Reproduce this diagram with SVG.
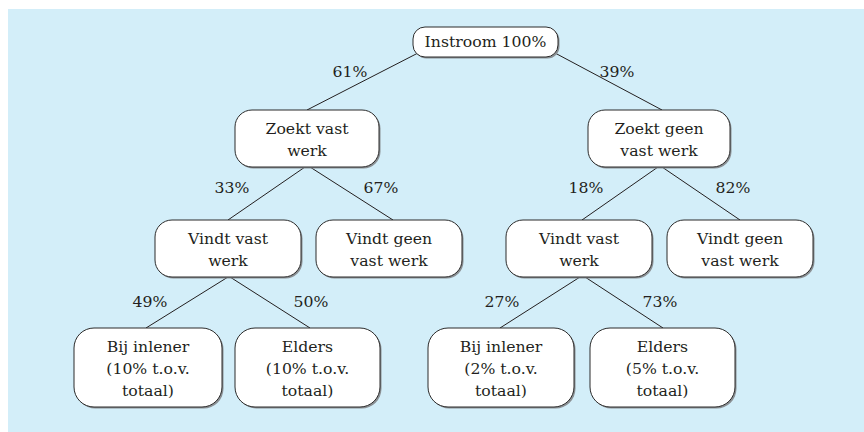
<svg xmlns="http://www.w3.org/2000/svg" width="864" height="432" viewBox="0 0 864 432">
<style>
.bg{fill:#d3eef9}
.box{fill:#ffffff;stroke:#2b2b2b;stroke-width:1}
.sh{fill:#8a8f93}
.t{font-family:"DejaVu Serif","Liberation Serif",serif;font-size:15.7px;fill:#231f20;text-anchor:middle}
.c{stroke:#231f20;stroke-width:1;fill:none}
</style>
<rect class="bg" x="8" y="9" width="856" height="423"/>
<g id="connectors">
<line class="c" x1="418" y1="53" x2="307" y2="110"/>
<line class="c" x1="555" y1="53" x2="662" y2="110"/>
<line class="c" x1="305" y1="167" x2="228" y2="220"/>
<line class="c" x1="310" y1="167" x2="393" y2="220"/>
<line class="c" x1="658" y1="167" x2="582" y2="220"/>
<line class="c" x1="662" y1="167" x2="740" y2="220"/>
<line class="c" x1="228" y1="277" x2="146" y2="328"/>
<line class="c" x1="230" y1="277" x2="310" y2="328"/>
<line class="c" x1="580" y1="277" x2="500" y2="328"/>
<line class="c" x1="585" y1="277" x2="663" y2="328"/>
<text class="t" x="350" y="77">61%</text>
<text class="t" x="617" y="77">39%</text>
<text class="t" x="232" y="193">33%</text>
<text class="t" x="381" y="193">67%</text>
<text class="t" x="586" y="193">18%</text>
<text class="t" x="733" y="193">82%</text>
<text class="t" x="150" y="307">49%</text>
<text class="t" x="311" y="307">50%</text>
<text class="t" x="502" y="307">27%</text>
<text class="t" x="660" y="307">73%</text>
</g>
<g id="n-instroom">
<rect class="sh" x="414.5" y="28.5" width="145" height="30" rx="12"/>
<rect class="box" x="413" y="27" width="145" height="30" rx="12"/>
<text class="t" x="485.5" y="47">Instroom 100%</text>
</g>
<g id="n-zoekt-vast">
<rect class="sh" x="236.5" y="111.5" width="144" height="57" rx="17"/>
<rect class="box" x="235" y="110" width="144" height="57" rx="17"/>
<text class="t" x="307" y="134">Zoekt vast</text>
<text class="t" x="307" y="156">werk</text>
</g>
<g id="n-zoekt-geen">
<rect class="sh" x="589.5" y="111.5" width="142" height="57" rx="17"/>
<rect class="box" x="588" y="110" width="142" height="57" rx="17"/>
<text class="t" x="659" y="134">Zoekt geen</text>
<text class="t" x="659" y="156">vast werk</text>
</g>
<g id="n-vindt-vast-l">
<rect class="sh" x="156.5" y="221.5" width="146" height="57" rx="17"/>
<rect class="box" x="155" y="220" width="146" height="57" rx="17"/>
<text class="t" x="228" y="244">Vindt vast</text>
<text class="t" x="228" y="266">werk</text>
</g>
<g id="n-vindt-geen-l">
<rect class="sh" x="317.5" y="221.5" width="146" height="57" rx="17"/>
<rect class="box" x="316" y="220" width="146" height="57" rx="17"/>
<text class="t" x="389" y="244">Vindt geen</text>
<text class="t" x="389" y="266">vast werk</text>
</g>
<g id="n-vindt-vast-r">
<rect class="sh" x="507.5" y="221.5" width="146" height="57" rx="17"/>
<rect class="box" x="506" y="220" width="146" height="57" rx="17"/>
<text class="t" x="579" y="244">Vindt vast</text>
<text class="t" x="579" y="266">werk</text>
</g>
<g id="n-vindt-geen-r">
<rect class="sh" x="668.5" y="221.5" width="146" height="57" rx="17"/>
<rect class="box" x="667" y="220" width="146" height="57" rx="17"/>
<text class="t" x="740" y="244">Vindt geen</text>
<text class="t" x="740" y="266">vast werk</text>
</g>
<g id="n-inlener-l">
<rect class="sh" x="75.5" y="329.5" width="148" height="79" rx="20"/>
<rect class="box" x="74" y="328" width="148" height="79" rx="20"/>
<text class="t" x="148" y="352">Bij inlener</text>
<text class="t" x="148" y="374">(10% t.o.v.</text>
<text class="t" x="148" y="396">totaal)</text>
</g>
<g id="n-elders-l">
<rect class="sh" x="236.5" y="329.5" width="145" height="79" rx="20"/>
<rect class="box" x="235" y="328" width="145" height="79" rx="20"/>
<text class="t" x="307.5" y="352">Elders</text>
<text class="t" x="307.5" y="374">(10% t.o.v.</text>
<text class="t" x="307.5" y="396">totaal)</text>
</g>
<g id="n-inlener-r">
<rect class="sh" x="429.5" y="329.5" width="146" height="79" rx="20"/>
<rect class="box" x="428" y="328" width="146" height="79" rx="20"/>
<text class="t" x="501" y="352">Bij inlener</text>
<text class="t" x="501" y="374">(2% t.o.v.</text>
<text class="t" x="501" y="396">totaal)</text>
</g>
<g id="n-elders-r">
<rect class="sh" x="591.5" y="329.5" width="145" height="79" rx="20"/>
<rect class="box" x="590" y="328" width="145" height="79" rx="20"/>
<text class="t" x="662.5" y="352">Elders</text>
<text class="t" x="662.5" y="374">(5% t.o.v.</text>
<text class="t" x="662.5" y="396">totaal)</text>
</g>
</svg>
